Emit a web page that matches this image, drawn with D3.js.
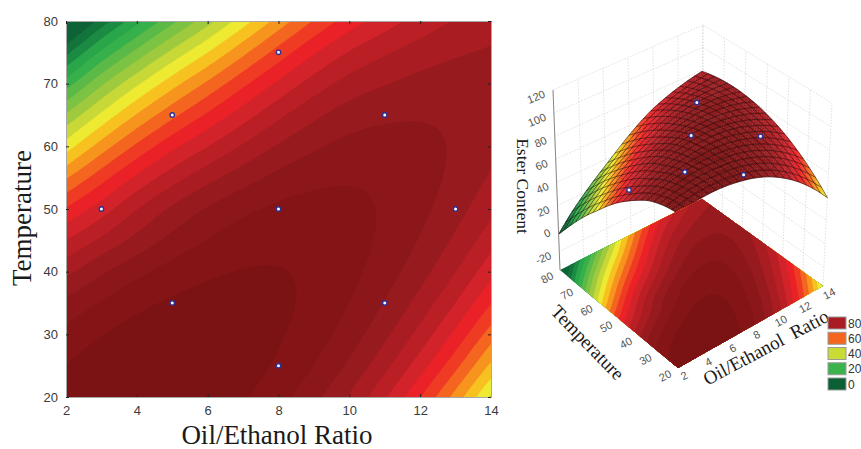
<!DOCTYPE html>
<html>
<head>
<meta charset="utf-8">
<script src="https://cdn.jsdelivr.net/npm/d3@7"></script>
<style>
  html, body { margin: 0; background: #fff; }
  svg { display: block; }
  .tickNum { font: 13px "Liberation Sans", Arial, sans-serif; fill: #3a3a3a; }
  .title { font-family: "Liberation Serif", "Times New Roman", serif; fill: #1a1a1a; }
  .axis path { stroke: #a8a8a8; }
  .axis line { stroke: #222; }
</style>
</head>
<body>
<svg id="chart" width="861" height="449"></svg>
<script>
// values
var oilValues = [2, 3, 4, 5, 6, 7, 8, 9, 10, 11, 12, 13, 14];
var tempValues = [20, 25, 30, 35, 40, 45, 50, 55, 60, 65, 70, 75, 80];

var esterAt20 = [107.2, 109.3, 110.1, 109.8, 108.3, 105.6, 101.8, 96.5, 89.4, 80.7, 70.2, 58.0, 44.1];
var esterAt25 = [105.1, 107.7, 109.2, 109.6, 108.9, 107.1, 104.2, 99.9, 94.0, 86.4, 77.2, 66.4, 53.9];
var esterAt30 = [101.5, 104.8, 107.0, 108.3, 108.4, 107.5, 105.5, 102.3, 97.5, 91.1, 83.2, 73.7, 62.6];
var esterAt35 = [96.2, 100.4, 103.6, 105.7, 106.8, 106.9, 105.9, 103.7, 99.9, 94.7, 88.0, 79.9, 70.2];
var esterAt40 = [88.6, 94.2, 98.6, 101.9, 104.1, 105.2, 105.2, 104.0, 101.4, 97.3, 91.9, 85.0, 76.7];
var esterAt45 = [80.0, 86.0, 91.6, 96.5, 100.1, 102.5, 103.6, 103.4, 101.8, 98.9, 94.6, 89.0, 82.1];
var esterAt50 = [70.5, 77.5, 84.8, 90.8, 95.4, 98.8, 100.9, 101.7, 101.2, 99.4, 96.3, 91.9, 86.3];
var esterAt55 = [59.5, 68.0, 76.0, 82.8, 88.3, 92.8, 96.4, 98.6, 99.4, 98.8, 96.9, 93.7, 89.4];
var esterAt60 = [47.5, 57.3, 66.0, 73.6, 79.9, 85.6, 90.5, 94.2, 96.5, 97.0, 96.3, 94.4, 91.3];
var esterAt65 = [35.6, 46.0, 55.4, 63.6, 70.8, 77.6, 83.8, 88.8, 92.3, 94.0, 94.5, 93.9, 92.2];
var esterAt70 = [22.5, 34.1, 44.1, 53.0, 61.0, 68.8, 76.0, 82.2, 86.9, 89.7, 91.5, 92.2, 91.9];
var esterAt75 = [8.5, 20.9, 31.5, 41.2, 49.9, 58.7, 67.0, 74.4, 80.3, 84.3, 87.3, 89.4, 90.5];
var esterAt80 = [-6.0, 7.1, 18.3, 28.6, 38.1, 47.7, 57.0, 65.4, 72.4, 77.6, 81.9, 85.4, 88.0];
var esterRows = [esterAt20, esterAt25, esterAt30, esterAt35, esterAt40, esterAt45, esterAt50,
  esterAt55, esterAt60, esterAt65, esterAt70, esterAt75, esterAt80];

// experimental design points
var designOil = [3, 5, 5, 8, 8, 8, 11, 11, 13];
var designTemp = [50, 35, 65, 25, 50, 75, 35, 65, 50];
// the ones that show above the surface in the 3D view
var shownOil = [3, 5, 8, 8, 11, 11];
var shownTemp = [50, 35, 25, 50, 35, 65];
var shownEster = [77, 105, 98, 100, 102, 94];

var bandLevels = [0, 5, 10, 15, 20, 25, 30, 35, 40, 45, 50, 55, 60, 65, 70, 75, 80, 85, 90, 95, 100, 105];
var bandColors = ["#0d6236", "#12733b", "#1b8a42", "#2aa64a", "#36b04a", "#5bb947", "#7cc243", "#a0ca3d",
  "#c8d937", "#eee931", "#f7c11f", "#f7941e", "#f4651f", "#ef3b24", "#ea2126", "#d2232a",
  "#ba1f25", "#a81c22", "#971a1e", "#8b171a", "#841416", "#7b1214"];

var oilTicks = [2, 4, 6, 8, 10, 12, 14];
var tempTicks = [20, 30, 40, 50, 60, 70, 80];
var esterTicks = [-20, 0, 20, 40, 60, 80, 100, 120];
var legendLabels = ["80", "60", "40", "20", "0"];
var legendColors = ["#a81c22", "#f4651f", "#c9dc35", "#3bb34a", "#0b5f35"];

var svg = d3.select("#chart");
var bandColor = d3.scaleThreshold().domain(bandLevels.slice(1)).range(bandColors);

// spline through the table so bands and mesh come out smooth
var fineSteps = 5;
var meshEvery = 3;
var fineSize = (oilValues.length - 1) * fineSteps + 1;

function spline(row, pos) {
  var n = row.length;
  var i = Math.min(Math.floor(pos), n - 2);
  var f = pos - i;
  var p1 = row[i], p2 = row[i + 1];
  var p0 = i > 0 ? row[i - 1] : 2 * p1 - p2;
  var p3 = i < n - 2 ? row[i + 2] : 2 * p2 - p1;
  return 0.5 * (2 * p1 + (p2 - p0) * f + (2 * p0 - 5 * p1 + 4 * p2 - p3) * f * f + (3 * p1 - p0 - 3 * p2 + p3) * f * f * f);
}

var fineRows = esterRows.map(function(row) {
  return d3.range(fineSize).map(function(i) { return spline(row, i / fineSteps); });
});
var fine = [];
d3.range(fineSize).forEach(function(j) {
  d3.range(fineSize).forEach(function(i) {
    fine.push(spline(fineRows.map(function(r) { return r[i]; }), j / fineSteps));
  });
});
function fineAt(i, j) { return fine[j * fineSize + i]; }

var oilOfGrid = d3.scaleLinear().domain([0, fineSize - 1]).range([2, 14]);
var tempOfGrid = d3.scaleLinear().domain([0, fineSize - 1]).range([20, 80]);

var contours = d3.contours().size([fineSize, fineSize]).smooth(true).thresholds(bandLevels.slice(1))(fine);

function bandPath(geo, project) {
  var line = d3.line();
  var out = "";
  geo.coordinates.forEach(function(poly) {
    poly.forEach(function(ring) {
      var pts = ring.map(function(p) {
        var gx = Math.max(0, Math.min(fineSize - 1, p[0] - 0.5));
        var gy = Math.max(0, Math.min(fineSize - 1, p[1] - 0.5));
        return project(oilOfGrid(gx), tempOfGrid(gy));
      });
      out += line(pts) + "Z";
    });
  });
  return out;
}

// ---- contour plot on the left
var x = d3.scaleLinear().domain([2, 14]).range([66, 491]);
var y = d3.scaleLinear().domain([20, 80]).range([397, 21]);
var left = svg.append("g");

left.append("rect").attr("x", 66).attr("y", 21).attr("width", 425).attr("height", 376).attr("fill", bandColors[0]);
left.selectAll("path.band").data(contours).enter().append("path")
  .attr("class", "band")
  .attr("d", function(d) { return bandPath(d, function(o, t) { return [x(o), y(t)]; }); })
  .attr("fill", function(d) { return bandColor(d.value); });

function styleAxis(g) {
  g.classed("axis", true);
  g.selectAll("text").attr("class", "tickNum").attr("font-size", null).attr("font-family", null).style("fill", null);
}
left.append("g").attr("transform", "translate(0,397)")
  .call(d3.axisBottom(x).tickValues(oilTicks).tickSizeInner(-3).tickSizeOuter(0).tickPadding(9)).call(styleAxis);
left.append("g").attr("transform", "translate(66,0)")
  .call(d3.axisLeft(y).tickValues(tempTicks).tickSizeInner(-3).tickSizeOuter(0).tickPadding(8)).call(styleAxis);
left.append("g").attr("transform", "translate(0,21)")
  .call(d3.axisTop(x).tickValues(oilTicks).tickSizeInner(-3).tickSizeOuter(0).tickFormat("")).call(styleAxis);
left.append("g").attr("transform", "translate(491,0)")
  .call(d3.axisRight(y).tickValues(tempTicks).tickSizeInner(-3).tickSizeOuter(0).tickFormat("")).call(styleAxis);

left.selectAll("circle.design").data(designOil).enter().append("circle")
  .attr("class", "design")
  .attr("cx", function(d) { return x(d); })
  .attr("cy", function(d, i) { return y(designTemp[i]); })
  .attr("r", 2.2)
  .attr("fill", "#fff").attr("stroke", "#2e3192").attr("stroke-width", 1.4);

left.append("text").attr("class", "title")
  .attr("x", 277).attr("y", 444).attr("text-anchor", "middle").attr("font-size", 27)
  .text("Oil/Ethanol Ratio");
left.append("text").attr("class", "title")
  .attr("transform", "translate(31,218) rotate(-90)").attr("text-anchor", "middle").attr("font-size", 27)
  .text("Temperature");

// ---- 3D view on the right
var floorFront = [678, 368], floorLeft = [560, 270], floorRight = [823, 286], floorBack = [702, 199];
var wallLeftTop = [553, 90], wallBackTop = [703, 25], wallRightTop = [832, 103];
var u3 = d3.scaleLinear().domain([2, 14]).range([0, 1]);
var v3 = d3.scaleLinear().domain([20, 80]).range([0, 1]);
// px above the floor for an ester value
var lift = d3.scaleLinear().domain([0, 100]).range([42, 147]);
// axis ruler on the walls
var wallFrac = d3.scaleLinear().domain([-36, 120]).range([0, 1]);

function mix(a, b, f) { return [a[0] + (b[0] - a[0]) * f, a[1] + (b[1] - a[1]) * f]; }
function floorPoint(o, t) {
  var u = u3(o), v = v3(t);
  return mix(mix(floorFront, floorRight, u), mix(floorLeft, floorBack, u), v);
}
function surfacePoint(o, t, z) {
  var p = floorPoint(o, t), h = lift(z) * (1 - 0.05 * u3(o) * v3(t));
  var lean = -7 * (1 - u3(o)) * v3(t) + 9 * u3(o) * (1 - v3(t));
  return [p[0] + lean * h / 180, p[1] - h];
}

var right = svg.append("g");

function wallLine(a, b) {
  right.append("line")
    .attr("x1", a[0]).attr("y1", a[1]).attr("x2", b[0]).attr("y2", b[1])
    .attr("stroke", "#d8d8d8").attr("stroke-width", 0.8).attr("stroke-dasharray", "1.5,1.5");
}
esterTicks.forEach(function(z) {
  var f = wallFrac(z);
  var a = mix(floorLeft, wallLeftTop, f), b = mix(floorBack, wallBackTop, f), c = mix(floorRight, wallRightTop, f);
  wallLine(a, b);
  wallLine(b, c);
});
oilTicks.forEach(function(o) {
  var u = u3(o);
  wallLine(mix(floorLeft, floorBack, u), mix(wallLeftTop, wallBackTop, u));
});
tempTicks.forEach(function(t) {
  var v = v3(t);
  wallLine(mix(floorRight, floorBack, v), mix(wallRightTop, wallBackTop, v));
});

// surface cells, far ones first
var cells = [];
d3.range(fineSize - 1).forEach(function(j) {
  d3.range(fineSize - 1).forEach(function(i) {
    cells.push({ i: i, j: j, z: (fineAt(i, j) + fineAt(i + 1, j) + fineAt(i, j + 1) + fineAt(i + 1, j + 1)) / 4 });
  });
});
function gridSurface(i, j) { return surfacePoint(oilOfGrid(i), tempOfGrid(j), fineAt(i, j)); }
function cellDepth(c) { return floorPoint(oilOfGrid(c.i + 0.5), tempOfGrid(c.j + 0.5))[1]; }
cells.sort(function(a, b) { return cellDepth(a) - cellDepth(b); });

var cellLine = d3.line();
right.append("g").selectAll("path").data(cells).enter().append("path")
  .attr("d", function(c) {
    return cellLine([gridSurface(c.i, c.j), gridSurface(c.i + 1, c.j), gridSurface(c.i + 1, c.j + 1), gridSurface(c.i, c.j + 1)]) + "Z";
  })
  .attr("fill", function(c) { return bandColor(c.z); })
  .attr("stroke", function(c) { return bandColor(c.z); })
  .attr("stroke-width", 0.4);

// mesh lines
var meshIdx = d3.range(0, fineSize, meshEvery);
var allIdx = d3.range(fineSize);
meshIdx.forEach(function(k) {
  right.append("path").attr("fill", "none").attr("stroke", "#1a0a0a").attr("stroke-width", 0.65).attr("stroke-opacity", 0.8)
    .attr("d", cellLine(allIdx.map(function(i) { return gridSurface(i, k); })));
  right.append("path").attr("fill", "none").attr("stroke", "#1a0a0a").attr("stroke-width", 0.65).attr("stroke-opacity", 0.8)
    .attr("d", cellLine(allIdx.map(function(j) { return gridSurface(k, j); })));
});

// floor map sits over the surface foot
right.append("path")
  .attr("d", cellLine([floorFront, floorRight, floorBack, floorLeft]) + "Z")
  .attr("fill", bandColors[0]);
right.selectAll("path.floorBand").data(contours).enter().append("path")
  .attr("class", "floorBand")
  .attr("d", function(d) { return bandPath(d, floorPoint); })
  .attr("fill", function(d) { return bandColor(d.value); });

right.selectAll("circle.shown").data(shownOil).enter().append("circle")
  .attr("class", "shown")
  .attr("cx", function(d, i) { return surfacePoint(d, shownTemp[i], shownEster[i])[0]; })
  .attr("cy", function(d, i) { return surfacePoint(d, shownTemp[i], shownEster[i])[1]; })
  .attr("r", 2.2)
  .attr("fill", "#fff").attr("stroke", "#2e3192").attr("stroke-width", 1.4);

// ester axis
right.append("line")
  .attr("x1", wallLeftTop[0]).attr("y1", wallLeftTop[1]).attr("x2", floorLeft[0]).attr("y2", floorLeft[1])
  .attr("stroke", "#888").attr("stroke-width", 1);
esterTicks.forEach(function(z) {
  var p = mix(floorLeft, wallLeftTop, wallFrac(z));
  right.append("text").attr("class", "tickNum").attr("text-anchor", "end")
    .attr("transform", "translate(" + (p[0] - 7) + "," + (p[1] + 7) + ") rotate(-22)")
    .attr("font-style", "italic").style("fill", "#555").style("font-size", "11px")
    .text(z);
});
tempTicks.forEach(function(t) {
  var p = floorPoint(2, t);
  right.append("text").attr("class", "tickNum").attr("text-anchor", "middle")
    .attr("transform", "translate(" + (p[0] - 11) + "," + (p[1] + 11) + ") rotate(-28)")
    .style("fill", "#555").style("font-size", "11px")
    .text(t);
});
oilTicks.forEach(function(o) {
  var p = floorPoint(o, 20);
  right.append("text").attr("class", "tickNum").attr("text-anchor", "middle")
    .attr("transform", "translate(" + (p[0] + 8) + "," + (p[1] + 11) + ") rotate(-28)")
    .style("fill", "#555").style("font-size", "11px")
    .text(o);
});

right.append("text").attr("class", "title")
  .attr("transform", "translate(517,186) rotate(90)").attr("text-anchor", "middle").attr("font-size", 17.5)
  .text("Ester Content");
right.append("text").attr("class", "title")
  .attr("transform", "translate(583,347) rotate(46)").attr("text-anchor", "middle").attr("font-size", 19)
  .text("Temperature");
right.append("text").attr("class", "title")
  .attr("transform", "translate(769,353) rotate(-28)").attr("text-anchor", "middle").attr("font-size", 19)
  .style("white-space", "pre")
  .text("Oil/Ethanol  Ratio");

// legend
var legendY = d3.scalePoint().domain(legendLabels).range([317, 378]);
var legend = svg.append("g");
legend.selectAll("rect").data(legendLabels).enter().append("rect")
  .attr("x", 828).attr("y", function(d) { return legendY(d); })
  .attr("width", 18).attr("height", 12)
  .attr("fill", function(d, i) { return legendColors[i]; })
  .attr("stroke", "#9a9a9a").attr("stroke-width", 1);
legend.selectAll("text").data(legendLabels).enter().append("text")
  .attr("x", 848).attr("y", function(d) { return legendY(d) + 10.5; })
  .attr("font-family", "Liberation Sans, Arial, sans-serif").attr("font-size", 12).attr("fill", "#333")
  .text(function(d) { return d; });
</script>
</body>
</html>
